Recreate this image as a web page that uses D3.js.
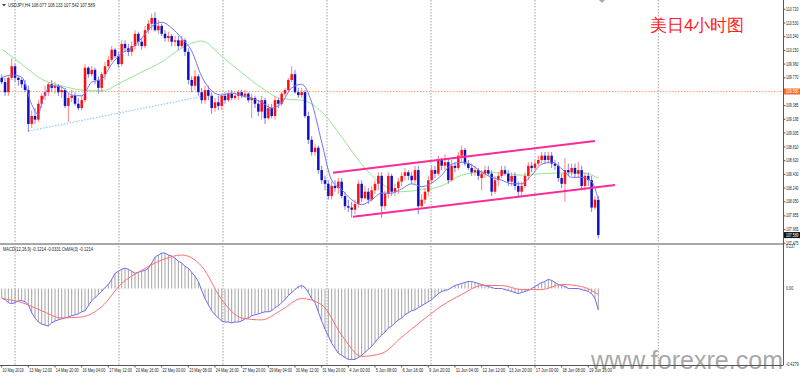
<!DOCTYPE html>
<html>
<head>
<meta charset="utf-8">
<script src="https://cdn.jsdelivr.net/npm/d3@7/dist/d3.min.js"></script>
<style>
body { margin: 0; background: #fff; }
text { font-family: "Liberation Sans", Arial, sans-serif; }
</style>
</head>
<body>
<script>
// USDJPY H4 candles, [open, high, low, close]
const candles = [
[109.77,109.82,109.68,109.71],[109.71,109.77,109.52,109.57],[109.57,109.79,109.52,109.77],[109.77,110.04,109.74,109.93],
[109.93,109.96,109.71,109.77],[109.77,109.79,109.66,109.74],[109.74,109.77,109.63,109.68],[109.68,109.74,109.57,109.60],
[109.60,109.66,109.02,109.13],[109.13,109.32,109.07,109.24],[109.24,109.35,109.13,109.19],[109.19,109.46,109.16,109.41],
[109.41,109.55,109.35,109.52],[109.52,109.66,109.46,109.57],[109.57,109.71,109.52,109.68],[109.68,109.74,109.57,109.63],
[109.63,109.71,109.55,109.66],[109.66,109.68,109.52,109.57],[109.57,109.66,109.49,109.60],[109.60,109.63,109.35,109.38],
[109.38,109.55,109.16,109.49],[109.49,109.60,109.43,109.52],[109.52,109.57,109.38,109.41],[109.41,109.49,109.32,109.35],
[109.35,109.52,109.32,109.46],[109.46,109.96,109.43,109.91],[109.91,109.93,109.77,109.82],[109.82,109.93,109.79,109.88],
[109.88,109.91,109.68,109.74],[109.74,109.79,109.55,109.63],[109.63,109.85,109.57,109.82],[109.82,109.99,109.74,109.93],
[109.93,110.07,109.91,110.02],[110.02,110.21,109.99,110.16],[110.16,110.18,110.04,110.07],[110.07,110.13,109.91,109.96],
[109.96,110.29,109.93,110.24],[110.24,110.29,110.13,110.18],[110.18,110.24,110.07,110.13],[110.13,110.27,110.07,110.21],
[110.21,110.43,110.16,110.38],[110.38,110.41,110.21,110.27],[110.27,110.32,110.16,110.21],[110.21,110.49,110.18,110.43],
[110.43,110.57,110.38,110.52],[110.52,110.66,110.43,110.60],[110.60,110.68,110.41,110.43],[110.43,110.57,110.38,110.49],
[110.49,110.52,110.35,110.38],[110.38,110.43,110.27,110.32],[110.32,110.41,110.27,110.35],[110.35,110.38,110.21,110.27],
[110.27,110.35,110.21,110.29],[110.29,110.35,110.16,110.21],[110.21,110.35,110.18,110.29],[110.29,110.32,110.07,110.13],
[110.13,110.18,109.68,109.74],[109.74,109.79,109.57,109.66],[109.66,109.88,109.60,109.79],[109.79,109.82,109.52,109.57],
[109.57,109.63,109.41,109.46],[109.46,109.66,109.41,109.60],[109.60,109.66,109.46,109.52],[109.52,109.57,109.27,109.35],
[109.35,109.49,109.30,109.43],[109.43,109.52,109.32,109.38],[109.38,109.55,109.32,109.52],[109.52,109.57,109.41,109.46],
[109.46,109.60,109.43,109.55],[109.55,109.60,109.46,109.49],[109.49,109.57,109.46,109.52],[109.52,109.60,109.46,109.57],
[109.57,109.60,109.49,109.52],[109.52,109.60,109.49,109.55],[109.55,109.57,109.43,109.46],[109.46,109.55,109.21,109.49],
[109.49,109.52,109.35,109.41],[109.41,109.46,109.24,109.30],[109.30,109.52,109.19,109.46],[109.46,109.49,109.13,109.21],
[109.21,109.41,109.19,109.35],[109.35,109.41,109.21,109.24],[109.24,109.52,109.19,109.46],[109.46,109.49,109.35,109.41],
[109.41,109.57,109.38,109.55],[109.55,109.63,109.52,109.60],[109.60,109.77,109.57,109.74],[109.74,109.93,109.71,109.82],
[109.82,109.88,109.55,109.57],[109.57,109.63,109.49,109.53],[109.53,109.63,109.49,109.57],[109.57,109.60,109.21,109.24],
[109.24,109.30,108.85,108.91],[108.91,108.96,108.69,108.74],[108.74,108.85,108.69,108.80],[108.80,108.83,108.44,108.49],
[108.49,108.55,108.30,108.35],[108.35,108.41,108.21,108.30],[108.30,108.35,108.08,108.13],[108.13,108.33,108.08,108.27],
[108.27,108.35,108.19,108.24],[108.24,108.38,108.16,108.33],[108.33,108.38,108.10,108.13],[108.13,108.19,107.94,107.99],
[107.99,108.08,107.91,107.97],[107.97,108.05,107.83,107.94],[107.94,108.08,107.88,108.02],[108.02,108.35,107.97,108.30],
[108.30,108.35,108.05,108.10],[108.10,108.27,108.08,108.19],[108.19,108.24,108.02,108.08],[108.08,108.27,108.05,108.21],
[108.21,108.35,108.16,108.30],[108.30,108.46,108.21,108.41],[108.41,108.46,107.83,107.99],[107.99,108.21,107.94,108.16],
[108.16,108.46,108.10,108.41],[108.41,108.44,108.13,108.19],[108.19,108.30,108.13,108.24],[108.24,108.38,108.16,108.33],
[108.33,108.46,108.27,108.41],[108.41,108.52,108.35,108.46],[108.46,108.49,108.35,108.41],[108.41,108.46,108.30,108.35],
[108.35,108.55,108.30,108.49],[108.49,108.55,107.88,107.99],[107.99,108.16,107.97,108.08],[108.08,108.24,108.02,108.19],
[108.19,108.41,108.13,108.35],[108.35,108.55,108.30,108.49],[108.49,108.55,108.38,108.44],[108.44,108.69,108.41,108.63],
[108.63,108.66,108.49,108.55],[108.55,108.71,108.49,108.60],[108.60,108.66,108.30,108.35],[108.35,108.63,108.33,108.55],
[108.55,108.60,108.46,108.52],[108.52,108.74,108.49,108.69],[108.69,108.83,108.60,108.77],[108.77,108.80,108.55,108.58],
[108.58,108.63,108.49,108.52],[108.52,108.58,108.41,108.46],[108.46,108.55,108.41,108.49],[108.49,108.52,108.35,108.41],
[108.38,108.49,108.21,108.44],[108.44,108.55,108.38,108.49],[108.49,108.55,108.41,108.44],[108.44,108.49,108.13,108.19],
[108.19,108.41,108.16,108.35],[108.35,108.46,108.27,108.41],[108.41,108.55,108.38,108.49],[108.49,108.55,108.41,108.44],
[108.44,108.49,108.27,108.33],[108.33,108.46,108.27,108.41],[108.41,108.46,108.21,108.27],[108.27,108.33,108.13,108.19],
[108.19,108.33,108.13,108.27],[108.27,108.46,108.24,108.41],[108.41,108.60,108.35,108.55],[108.55,108.60,108.46,108.52],
[108.52,108.63,108.49,108.58],[108.58,108.69,108.55,108.63],[108.63,108.74,108.58,108.69],[108.69,108.74,108.58,108.63],
[108.63,108.74,108.58,108.69],[108.69,108.74,108.52,108.58],[108.58,108.63,108.49,108.55],[108.55,108.60,108.33,108.38],
[108.38,108.44,108.24,108.30],[108.30,108.66,108.05,108.49],[108.49,108.58,108.41,108.46],[108.46,108.58,108.41,108.52],
[108.52,108.58,108.38,108.44],[108.44,108.60,108.38,108.49],[108.49,108.55,108.21,108.27],[108.27,108.46,108.21,108.41],
[108.41,108.46,108.27,108.35],[108.35,108.41,107.91,107.97],[107.97,108.13,107.94,108.08],[108.077,108.133,107.542,107.589]
];

// moving averages, [bar, price]
const fastMA = [[0,109.77],[3,109.81],[6,109.78],[9,109.40],[11,109.26],[12,109.42],[15,109.66],[18,109.64],[21,109.53],[24,109.52],
[27,109.71],[30,109.75],[33,109.96],[36,110.11],[39,110.18],[42,110.32],[45,110.48],[48,110.54],[51,110.46],[54,110.32],
[57,110.14],[60,109.79],[63,109.59],[66,109.53],[69,109.56],[72,109.52],[75,109.49],[78,109.43],[81,109.35],[84,109.42],
[87,109.63],[90,109.68],[93,109.43],[96,108.88],[99,108.35],[102,108.22],[105,108.08],[108,108.01],[111,108.08],[114,108.17],
[117,108.17],[120,108.23],[123,108.30],[126,108.26],[129,108.31],[132,108.42],[135,108.57],[138,108.60],[141,108.56],[144,108.46],
[147,108.39],[150,108.35],[153,108.30],[156,108.30],[159,108.42],[162,108.57],[165,108.60],[168,108.51],[171,108.39],[174,108.39],
[177,108.33],[179,108.08]];
const slowMA = [[0,110.17],[6,109.96],[12,109.75],[18,109.66],[24,109.60],[30,109.59],[36,109.71],[42,109.85],[48,109.99],[54,110.18],
[60,110.28],[66,110.07],[72,109.84],[78,109.63],[84,109.48],[90,109.46],[96,109.30],[102,108.95],[108,108.57],[114,108.30],
[120,108.19],[126,108.22],[132,108.27],[138,108.42],[144,108.46],[150,108.45],[156,108.42],[162,108.44],[168,108.45],[174,108.45],
[179,108.38]];

// drawn objects
const trendLine = [[8,109.03],[61,109.52]];
const channelUp = [[99.4,108.454],[178,108.893]];
const channelDown = [[105.4,107.843],[184,108.283]];
const hLevel = 109.58;
const lastPrice = 107.589;

// MACD(12,26,9): main per bar, signal [bar, value]
const macd = [-0.052,-0.063,-0.080,-0.086,-0.080,-0.069,-0.069,-0.075,-0.092,-0.138,
-0.167,-0.190,-0.201,-0.207,-0.213,-0.195,-0.184,-0.178,-0.172,-0.167,
-0.161,-0.155,-0.149,-0.144,-0.132,-0.126,-0.098,-0.069,-0.052,-0.034,
-0.017,0.006,0.023,0.052,0.086,0.098,0.109,0.115,0.109,0.098,
0.086,0.092,0.098,0.103,0.115,0.144,0.178,0.190,0.201,0.201,
0.190,0.184,0.172,0.155,0.144,0.126,0.115,0.092,0.069,0.040,
-0.011,-0.057,-0.092,-0.126,-0.149,-0.167,-0.184,-0.190,-0.190,-0.195,
-0.190,-0.190,-0.184,-0.172,-0.167,-0.155,-0.149,-0.144,-0.138,-0.132,
-0.132,-0.126,-0.109,-0.098,-0.080,-0.063,-0.040,-0.023,-0.006,0.011,
0.017,0.006,-0.023,-0.057,-0.080,-0.132,-0.184,-0.230,-0.270,-0.310,
-0.339,-0.368,-0.379,-0.391,-0.402,-0.402,-0.402,-0.391,-0.379,-0.362,
-0.345,-0.328,-0.305,-0.282,-0.264,-0.247,-0.224,-0.213,-0.195,-0.178,
-0.167,-0.149,-0.138,-0.126,-0.121,-0.109,-0.098,-0.086,-0.075,-0.063,
-0.046,-0.029,-0.017,-0.011,-0.006,0.006,0.017,0.023,0.029,0.034,
0.040,0.040,0.034,0.029,0.023,0.017,0.011,0.006,0,0,
0,-0.006,-0.011,-0.017,-0.023,-0.029,-0.023,-0.017,-0.011,0,
0.011,0.023,0.034,0.040,0.052,0.046,0.034,0.023,0.017,0.011,
0,0,0,0,-0.006,-0.011,-0.017,-0.029,-0.057,-0.121];
const signal = [[0,-0.057],[6,-0.080],[12,-0.126],[18,-0.167],[24,-0.161],[30,-0.103],[36,0.029],[42,0.103],[48,0.161],[54,0.190],
[60,0.126],[66,-0.063],[72,-0.167],[78,-0.178],[84,-0.121],[90,-0.057],[96,-0.092],[102,-0.264],[108,-0.385],[114,-0.368],
[120,-0.276],[126,-0.184],[132,-0.098],[138,-0.034],[144,0.017],[150,0.017],[156,-0.006],[162,-0.006],[168,0.023],[174,0.011],
[179,-0.033]];

// axis labels
const priceTicks = [110.720,110.530,110.340,110.150,109.960,109.770,109.385,109.195,109.005,108.810,108.620,108.430,108.240,108.050,107.855,107.665,107.475];
const macdTicks = [0.237, 0, -0.4279];
const timeLabels = ["10 May 2019","13 May 12:00","14 May 20:00","16 May 04:00","17 May 12:00","20 May 16:00","22 May 00:00",
"23 May 08:00","24 May 16:00","27 May 20:00","29 May 04:00","30 May 12:00","31 May 20:00","4 Jun 00:00","5 Jun 08:00",
"6 Jun 16:00","9 Jun 20:00","11 Jun 04:00","12 Jun 12:00","13 Jun 20:00","17 Jun 00:00","18 Jun 08:00","19 Jun 16:00"];
const gridBars = [4, 35.2, 66.4, 97.6, 128.8, 160, 197];

var width = 800, height = 376;
var axisX = 783, mainBottom = 243, macdTop = 245, macdBottom = 365;
var fs = 4.6;

const x = d3.scaleLinear().domain([0, candles.length - 1]).range([1.7, 598.3]);
const y = d3.scaleLinear().domain([107.465, 110.849]).range([244, 0]);
const ym = d3.scaleLinear().domain([-0.4279, 0.237]).range([364, 246.7]);

var svg = d3.select("body").append("svg")
  .attr("width", width)
  .attr("height", height);

svg.append("rect").attr("width", width).attr("height", height).attr("fill", "#fff");

var defs = svg.append("defs");
defs.append("clipPath").attr("id", "clipMain")
  .append("rect").attr("x", 0).attr("y", 0).attr("width", axisX).attr("height", mainBottom);
defs.append("clipPath").attr("id", "clipMacd")
  .append("rect").attr("x", 0).attr("y", macdTop).attr("width", axisX).attr("height", macdBottom - macdTop);

// vertical grid
svg.append("g").selectAll("line")
  .data(gridBars)
  .enter().append("line")
  .attr("x1", d => x(d)).attr("x2", d => x(d))
  .attr("y1", 0).attr("y2", macdBottom)
  .attr("stroke", "#8c8c8c")
  .attr("stroke-width", 0.8)
  .attr("stroke-dasharray", "1.5,1.5");

// ---------- main pane
var g = svg.append("g").attr("clip-path", "url(#clipMain)");

g.append("line")
  .attr("x1", 0).attr("x2", axisX)
  .attr("y1", y(hLevel)).attr("y2", y(hLevel))
  .attr("stroke", "#f7a27a")
  .attr("stroke-width", 1)
  .attr("stroke-dasharray", "1.5,1.5");

g.append("path")
  .attr("d", d3.line().x(d => x(d[0])).y(d => y(d[1]))(trendLine))
  .attr("fill", "none")
  .attr("stroke", "#7cc4f5")
  .attr("stroke-width", 1)
  .attr("stroke-dasharray", "1.5,1.5");

var maLine = d3.line().x(d => x(d[0])).y(d => y(d[1])).curve(d3.curveMonotoneX);

g.append("path").attr("d", maLine(slowMA))
  .attr("fill", "none").attr("stroke", "#92e892").attr("stroke-width", 1);

var c = g.append("g").selectAll("g")
  .data(candles)
  .enter().append("g");

c.append("line")
  .attr("x1", (d, i) => x(i)).attr("x2", (d, i) => x(i))
  .attr("y1", d => y(d[1])).attr("y2", d => y(d[2]))
  .attr("stroke", d => d[3] >= d[0] ? "#ff8080" : "#8080e0")
  .attr("stroke-width", 1);

c.append("rect")
  .attr("x", (d, i) => x(i) - 1.25)
  .attr("width", 2.5)
  .attr("y", d => y(Math.max(d[0], d[3])))
  .attr("height", d => Math.max(0.8, Math.abs(y(d[0]) - y(d[3]))))
  .attr("fill", d => d[3] >= d[0] ? "#ff1010" : "#1010c0");

g.append("path").attr("d", maLine(fastMA))
  .attr("fill", "none").attr("stroke", "#7373f2").attr("stroke-width", 1);

[channelUp, channelDown].forEach(ch => {
  g.append("path")
    .attr("d", d3.line().x(d => x(d[0])).y(d => y(d[1]))(ch))
    .attr("stroke", "#ff2a9a")
    .attr("stroke-width", 2);
});

// title
svg.append("path").attr("d", "M2,4 L6,4 L4,6.5 Z").attr("fill", "#444");
svg.append("text")
  .attr("x", 8).attr("y", 6.5)
  .attr("font-size", fs)
  .attr("fill", "#222")
  .attr("textLength", 87)
  .attr("lengthAdjust", "spacingAndGlyphs")
  .text("USDJPY,H4  108.077 108.133 107.542 107.589");

// chart shift marker
svg.append("path").attr("d", "M599,0 L605,0 L602,3 Z").attr("fill", "#aaa");

svg.append("text")
  .attr("x", 650).attr("y", 30.5)
  .attr("font-family", "'Noto Sans CJK SC', sans-serif")
  .attr("font-size", 17)
  .attr("fill", "#ff2020")
  .text("美日4小时图");

// ---------- MACD pane
var m = svg.append("g").attr("clip-path", "url(#clipMacd)");

m.append("g").selectAll("line")
  .data(macd)
  .enter().append("line")
  .attr("x1", (d, i) => x(i)).attr("x2", (d, i) => x(i))
  .attr("y1", ym(0)).attr("y2", d => ym(d))
  .attr("stroke", "#9a9a9a")
  .attr("stroke-width", 0.9);

m.append("path")
  .attr("d", d3.line().x((d, i) => x(i)).y(d => ym(d))(macd))
  .attr("fill", "none").attr("stroke", "#6b6bf5").attr("stroke-width", 1);

m.append("path")
  .attr("d", d3.line().x(d => x(d[0])).y(d => ym(d[1])).curve(d3.curveMonotoneX)(signal))
  .attr("fill", "none").attr("stroke", "#ff6f6f").attr("stroke-width", 1);

svg.append("text")
  .attr("x", 3).attr("y", 251)
  .attr("font-size", fs)
  .attr("fill", "#222")
  .attr("textLength", 90)
  .attr("lengthAdjust", "spacingAndGlyphs")
  .text("MACD(12,26,9) -0.1214 -0.0331    OsMA(3) -0.1214");

// watermark
svg.append("text")
  .attr("x", 591).attr("y", 369)
  .attr("font-family", "'Open Sans', sans-serif")
  .attr("font-size", 26)
  .attr("fill", "#8a8a8a")
  .attr("fill-opacity", 0.75)
  .attr("textLength", 192)
  .attr("lengthAdjust", "spacingAndGlyphs")
  .text("www.forexre.com");

// ---------- frame and axes
svg.append("rect")
  .attr("x", 0).attr("y", mainBottom)
  .attr("width", axisX).attr("height", macdTop - mainBottom)
  .attr("fill", "#a8a8a8");

svg.append("line")
  .attr("x1", axisX + 0.5).attr("x2", axisX + 0.5)
  .attr("y1", 0).attr("y2", macdBottom)
  .attr("stroke", "#555");
svg.append("line")
  .attr("x1", 0).attr("x2", axisX + 0.5)
  .attr("y1", macdBottom + 0.5).attr("y2", macdBottom + 0.5)
  .attr("stroke", "#555");

function axisText(sel, tx, ty, len) {
  return sel.append("text")
    .attr("x", tx).attr("y", ty)
    .attr("font-size", fs)
    .attr("fill", "#222")
    .attr("textLength", len)
    .attr("lengthAdjust", "spacingAndGlyphs");
}

var pa = svg.append("g");
pa.selectAll("line")
  .data(priceTicks)
  .enter().append("line")
  .attr("x1", axisX).attr("x2", axisX + 2.5)
  .attr("y1", d => y(d)).attr("y2", d => y(d))
  .attr("stroke", "#555");
priceTicks.forEach(d => {
  axisText(pa, axisX + 3, y(d) + 1.6, 12.5).text(d3.format(".3f")(d));
});

// highlighted price labels
[[hLevel, "#f36d2a", "109.580"], [lastPrice, "#111", "107.589"]].forEach(h => {
  svg.append("rect")
    .attr("x", axisX + 1).attr("y", y(h[0]) - 3)
    .attr("width", 16).attr("height", 6)
    .attr("fill", h[1]);
  axisText(svg, axisX + 3, y(h[0]) + 1.6, 12.5).attr("fill", "#fff").text(h[2]);
});

var ma = svg.append("g");
macdTicks.forEach(d => {
  var t = d === 0 ? "0.00" : String(d);
  axisText(ma, axisX + 3, ym(d) + 1.6, t.length * 1.8).text(t);
});

var ta = svg.append("g");
ta.selectAll("line")
  .data(timeLabels)
  .enter().append("line")
  .attr("x1", (d, i) => x(i * 8)).attr("x2", (d, i) => x(i * 8))
  .attr("y1", macdBottom).attr("y2", macdBottom + 2.5)
  .attr("stroke", "#555");
timeLabels.forEach((d, i) => {
  axisText(ta, x(i * 8) + 0.8, 371.5, d.length * 1.9).text(d);
});
</script>
</body>
</html>
